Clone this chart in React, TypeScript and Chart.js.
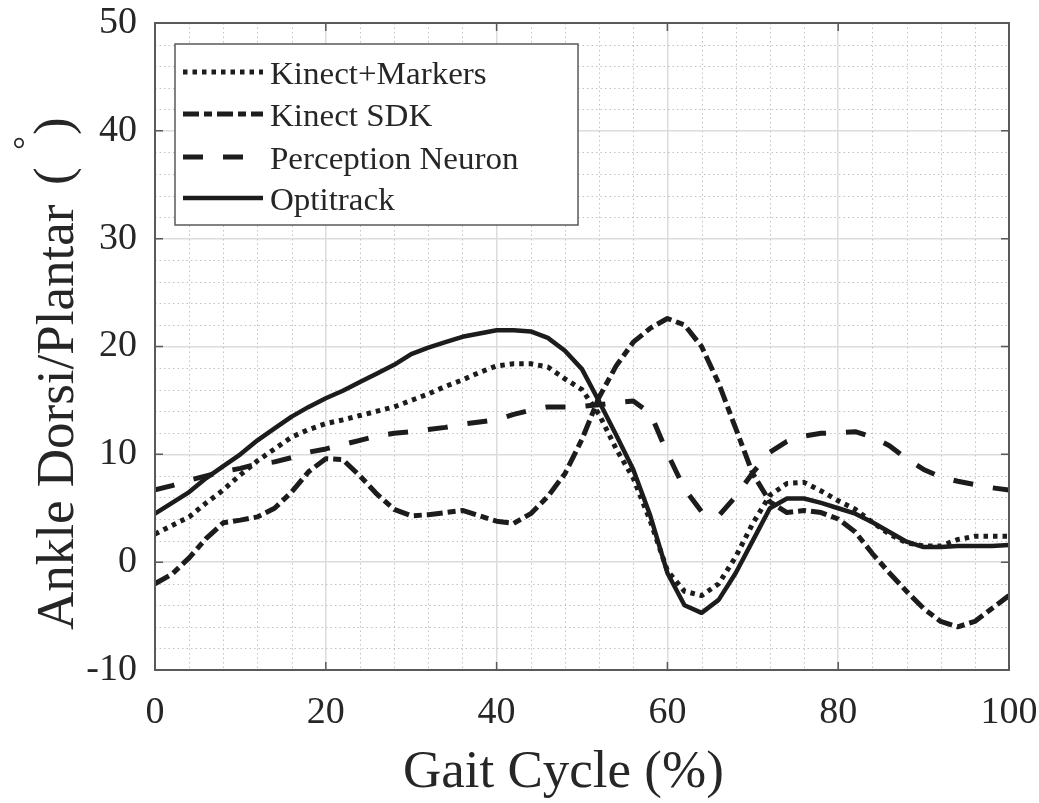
import React, { useEffect, useRef } from "react";
import { Chart, registerables } from "chart.js";

Chart.register(...registerables);

// ---- data ----
const gaitCycle = [
  0, 2, 4, 6, 8, 10, 12, 14, 16, 18, 20, 22, 24, 26, 28, 30, 32, 34, 36, 38, 40,
  42, 44, 46, 48, 50, 52, 54, 56, 58, 60, 62, 64, 66, 68, 70, 72, 74, 76, 78, 80,
  82, 84, 86, 88, 90, 92, 94, 96, 98, 100,
];

const kinectMarkers = [
  2.6, 3.4, 4.2, 5.5, 6.7, 8.1, 9.4, 10.5, 11.6, 12.3, 12.85, 13.2, 13.6, 14.0, 14.4, 15.0,
  15.6, 16.3, 16.9, 17.6, 18.2, 18.4, 18.4, 18.1, 17.0, 16.0, 13.7, 10.5, 7.8, 3.8, -0.8,
  -2.7, -3.1, -2.0, 0.5, 3.6, 6.2, 7.3, 7.4, 6.6, 5.7, 4.9, 3.7, 2.6, 1.8, 1.5, 1.5, 2.1,
  2.4, 2.4, 2.4,
];

const kinectSDK = [
  -2.0, -1.1, 0.4, 2.2, 3.65, 3.9, 4.2, 5.0, 6.5, 8.4, 9.6, 9.5, 8.0, 6.3, 4.9, 4.3, 4.4,
  4.6, 4.8, 4.3, 3.8, 3.6, 4.5, 6.1, 8.2, 11.4, 15.3, 18.2, 20.4, 21.7, 22.6, 22.0, 20.0,
  16.6, 12.4, 8.2, 5.6, 4.6, 4.8, 4.6, 4.0, 2.8, 0.8, -1.0, -2.7, -4.3, -5.5, -6.0, -5.5,
  -4.3, -3.1,
];

const perceptionNeuron = [
  6.7, 7.1, 7.6, 8.0, 8.4, 8.7, 9.1, 9.3, 9.7, 10.2, 10.5, 10.9, 11.3, 11.7, 11.95, 12.1,
  12.3, 12.5, 12.8, 13.0, 13.2, 13.7, 14.1, 14.4, 14.4, 14.45, 14.6, 14.8, 14.95, 13.8,
  10.1, 6.8, 4.7, 4.3, 6.1, 8.3, 10.2, 11.2, 11.7, 11.95, 12.0, 12.1, 11.6, 10.8, 9.6, 8.6,
  7.9, 7.5, 7.2, 6.9, 6.7,
];

const optitrack = [
  4.5, 5.5, 6.5, 7.8, 8.9, 10.0, 11.3, 12.4, 13.5, 14.4, 15.2, 15.9, 16.7, 17.5, 18.3,
  19.3, 19.9, 20.4, 20.9, 21.2, 21.5, 21.5, 21.4, 20.8, 19.6, 17.9, 14.9, 11.8, 8.6, 4.3,
  -1.0, -4.0, -4.7, -3.5, -1.0, 2.0, 5.0, 5.9, 5.9, 5.5, 5.0, 4.5, 3.7, 2.8, 1.9, 1.4, 1.4,
  1.5, 1.5, 1.5, 1.6,
];

const seriesLabels = ["Kinect+Markers", "Kinect SDK", "Perception Neuron", "Optitrack"];
const seriesDashes = [[4.5, 5], [16, 5, 8, 5], [20, 20], []];
const xAxisTitle = "Gait Cycle (%)";
const yAxisTitle = "Ankle Dorsi/Plantar";

const SERIF = "'Liberation Serif', 'Times New Roman', serif";
const LINE = "#1c1c1c";
const AXIS = "#5a5a5a";
const TEXT = "#262626";

function toPoints(ys: number[]) {
  return ys.map((y, i) => ({ x: gaitCycle[i], y }));
}

const decorPlugin = {
  id: "decor",
  beforeDatasetsDraw(chart: any) {
    const { ctx, chartArea: a, scales } = chart;
    const xs = scales.x;
    const ys = scales.y;
    ctx.save();
    ctx.strokeStyle = "#c2c2c2";
    ctx.lineWidth = 1;
    ctx.setLineDash([1.5, 3]);
    for (let v = 0; v <= 100; v += 4) {
      if (v % 20 === 0) continue;
      const px = Math.round(xs.getPixelForValue(v)) + 0.5;
      ctx.beginPath();
      ctx.moveTo(px, a.top);
      ctx.lineTo(px, a.bottom);
      ctx.stroke();
    }
    for (let v = -10; v <= 50; v += 2) {
      if (v % 10 === 0) continue;
      const py = Math.round(ys.getPixelForValue(v)) + 0.5;
      ctx.beginPath();
      ctx.moveTo(a.left, py);
      ctx.lineTo(a.right, py);
      ctx.stroke();
    }
    ctx.restore();
  },
  afterDatasetsDraw(chart: any) {
    const { ctx, chartArea: a, scales } = chart;
    const xs = scales.x;
    const ys = scales.y;
    ctx.save();
    ctx.setLineDash([]);
    ctx.strokeStyle = AXIS;
    ctx.lineWidth = 2;
    ctx.strokeRect(a.left, a.top, a.right - a.left, a.bottom - a.top);
    const tl = 8;
    ctx.lineWidth = 1.5;
    for (let v = 0; v <= 100; v += 20) {
      const px = xs.getPixelForValue(v);
      ctx.beginPath();
      ctx.moveTo(px, a.bottom);
      ctx.lineTo(px, a.bottom - tl);
      ctx.moveTo(px, a.top);
      ctx.lineTo(px, a.top + tl);
      ctx.stroke();
    }
    for (let v = -10; v <= 50; v += 10) {
      const py = ys.getPixelForValue(v);
      ctx.beginPath();
      ctx.moveTo(a.left, py);
      ctx.lineTo(a.left + tl, py);
      ctx.moveTo(a.right, py);
      ctx.lineTo(a.right - tl, py);
      ctx.stroke();
    }
    ctx.restore();
  },
  afterDraw(chart: any) {
    const { ctx } = chart;
    ctx.save();
    ctx.fillStyle = TEXT;
    ctx.textAlign = "left";
    ctx.textBaseline = "alphabetic";

    // x title
    ctx.font = `53px ${SERIF}`;
    ctx.fillText(xAxisTitle, 403, 787);

    // y title (rotated) with superscript degree
    ctx.save();
    ctx.translate(73, 630);
    ctx.rotate(-Math.PI / 2);
    ctx.font = `53px ${SERIF}`;
    ctx.fillText(yAxisTitle, 0, 0);
    ctx.fillText("(", 445, -3);
    ctx.fillText(")", 495, -3);
    ctx.font = `34px ${SERIF}`;
    ctx.textAlign = "center";
    ctx.fillText("\u00B0", 487, -37);
    ctx.restore();

    // legend
    const L = 175, T = 44, R = 578, B = 225;
    ctx.fillStyle = "#ffffff";
    ctx.fillRect(L, T, R - L, B - T);
    ctx.strokeStyle = AXIS;
    ctx.lineWidth = 1.5;
    ctx.setLineDash([]);
    ctx.strokeRect(L, T, R - L, B - T);
    const rows = [72, 114, 157, 198];
    chart.data.datasets.forEach((ds: any, i: number) => {
      const y = rows[i];
      ctx.save();
      ctx.strokeStyle = ds.borderColor;
      ctx.lineWidth = ds.borderWidth;
      ctx.lineCap = "butt";
      ctx.setLineDash(ds.borderDash || []);
      ctx.beginPath();
      ctx.moveTo(183, y);
      ctx.lineTo(263, y);
      ctx.stroke();
      ctx.restore();
      ctx.save();
      ctx.fillStyle = TEXT;
      ctx.font = `31px ${SERIF}`;
      ctx.textAlign = "left";
      ctx.translate(270, y + 11.5);
      ctx.scale(1.065, 1);
      ctx.fillText(ds.label, 0, 0);
      ctx.restore();
    });
    ctx.restore();
  },
};

export default function App() {
  const canvasRef = useRef<HTMLCanvasElement | null>(null);

  useEffect(() => {
    const canvas = canvasRef.current;
    if (!canvas) return;
    const seriesValues = [kinectMarkers, kinectSDK, perceptionNeuron, optitrack];
    const chart = new Chart(canvas, {
      type: "line",
      data: {
        datasets: seriesValues.map((vals, i) => ({
          label: seriesLabels[i],
          data: toPoints(vals),
          borderColor: LINE,
          borderWidth: i === 3 ? 4.5 : 5,
          borderDash: seriesDashes[i],
          borderCapStyle: "butt",
          borderJoinStyle: "round",
          pointRadius: 0,
          tension: 0,
          fill: false,
          order: 3 - i,
        })),
      },
      options: {
        animation: false,
        responsive: false,
        devicePixelRatio: 1,
        layout: { padding: { top: 23, right: 30, left: 0, bottom: 0 } },
        plugins: {
          legend: { display: false },
          tooltip: { enabled: false },
          title: { display: false },
        },
        scales: {
          x: {
            type: "linear",
            min: 0,
            max: 100,
            ticks: {
              stepSize: 20,
              padding: 20,
              color: TEXT,
              font: { family: SERIF, size: 38 },
              maxRotation: 0,
            },
            grid: { color: "#dcdcdc", lineWidth: 1.5, drawTicks: false },
            border: { display: false },
            afterFit: (scale: any) => {
              scale.height = 133;
              scale.paddingLeft = 0;
              scale.paddingRight = 0;
            },
          },
          y: {
            type: "linear",
            min: -10,
            max: 50,
            ticks: {
              stepSize: 10,
              padding: 18,
              color: TEXT,
              font: { family: SERIF, size: 38 },
            },
            grid: { color: "#dcdcdc", lineWidth: 1.5, drawTicks: false },
            border: { display: false },
            afterFit: (scale: any) => {
              scale.width = 155;
              scale.paddingTop = 0;
              scale.paddingBottom = 0;
            },
          },
        },
      } as any,
      plugins: [decorPlugin],
    });
    return () => chart.destroy();
  }, []);

  return (
    <div
      style={{
        position: "fixed",
        left: 0,
        top: 0,
        width: 1039,
        height: 803,
        background: "#ffffff",
      }}
    >
      <canvas
        ref={canvasRef}
        width={1039}
        height={803}
        style={{ width: 1039, height: 803, display: "block" }}
      />
    </div>
  );
}
